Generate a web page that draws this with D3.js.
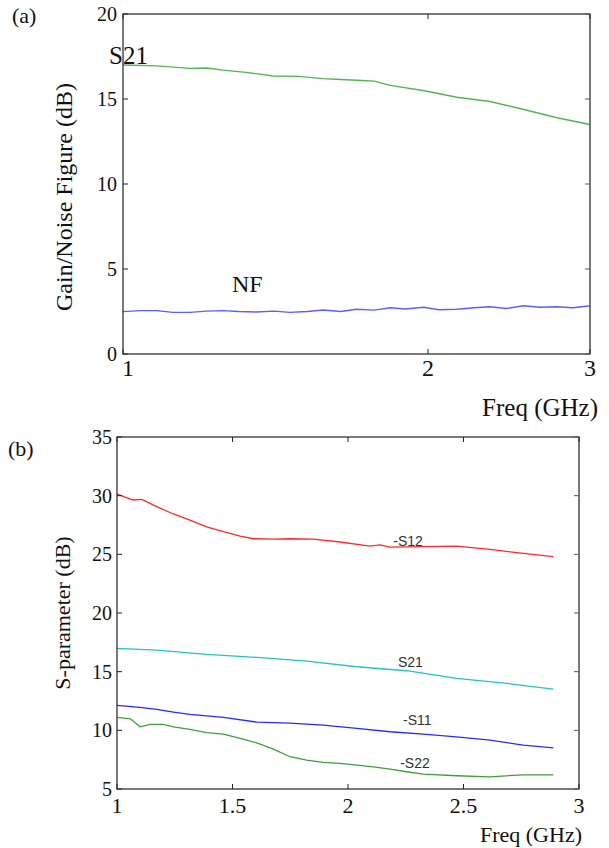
<!DOCTYPE html>
<html>
<head>
<meta charset="utf-8">
<script src="https://cdn.jsdelivr.net/npm/d3@7"></script>
<style>
  body { margin: 0; background: #fff; }
  svg { display: block; }
</style>
</head>
<body>
<svg id="chart" width="609" height="848"></svg>
<script>
// ---------- Panel (a) data ----------
const aS21Freq = [1.0, 1.08, 1.164, 1.21, 1.255, 1.33, 1.406, 1.49, 1.575, 1.64, 1.702, 1.77, 1.835, 1.977, 2.136, 2.303, 2.482, 2.681, 2.89];
const aS21Val  = [17.0, 16.95, 16.8, 16.82, 16.7, 16.55, 16.35, 16.33, 16.2, 16.15, 16.1, 16.05, 15.8, 15.5, 15.1, 14.85, 14.4, 13.9, 13.5];
const aNFFreq  = [1.0, 1.04, 1.08, 1.12, 1.164, 1.21, 1.256, 1.30, 1.354, 1.41, 1.461, 1.52, 1.576, 1.64, 1.70, 1.77, 1.835, 1.90, 1.98, 2.05, 2.135, 2.22, 2.303, 2.39, 2.485, 2.58, 2.68, 2.78, 2.89];
const aNFVal   = [2.49, 2.55, 2.55, 2.45, 2.45, 2.52, 2.55, 2.5, 2.47, 2.52, 2.45, 2.5, 2.59, 2.5, 2.63, 2.58, 2.72, 2.65, 2.75, 2.6, 2.63, 2.72, 2.78, 2.68, 2.84, 2.75, 2.78, 2.72, 2.84];
const aXTickValues = [1, 2, 2.89];
const aXTickLabels = ["1", "2", "3"];
const aYTicks = [0, 5, 10, 15, 20];

// ---------- Panel (b) data ----------
const bS12Freq = [1.0, 1.07, 1.107, 1.172, 1.244, 1.316, 1.388, 1.461, 1.533, 1.591, 1.677, 1.749, 1.85, 1.966, 2.095, 2.139, 2.182, 2.326, 2.47, 2.615, 2.759, 2.889];
const bS12Val  = [30.14, 29.63, 29.69, 29.06, 28.44, 27.92, 27.35, 26.93, 26.56, 26.33, 26.3, 26.33, 26.3, 26.05, 25.7, 25.8, 25.62, 25.65, 25.7, 25.42, 25.08, 24.8];
const bS21Freq = [1.0, 1.172, 1.388, 1.605, 1.821, 2.038, 2.254, 2.47, 2.687, 2.889];
const bS21Val  = [16.99, 16.84, 16.47, 16.22, 15.9, 15.42, 15.08, 14.43, 14.0, 13.52];
const bS11Freq = [1.0, 1.1, 1.172, 1.244, 1.316, 1.461, 1.605, 1.749, 1.893, 2.038, 2.182, 2.326, 2.47, 2.615, 2.759, 2.889];
const bS11Val  = [12.13, 11.95, 11.79, 11.56, 11.36, 11.1, 10.7, 10.62, 10.45, 10.17, 9.88, 9.68, 9.45, 9.17, 8.74, 8.51];
const bS22Freq = [1.0, 1.058, 1.1, 1.143, 1.2, 1.244, 1.316, 1.388, 1.461, 1.533, 1.605, 1.677, 1.749, 1.821, 1.893, 1.966, 2.038, 2.11, 2.182, 2.254, 2.326, 2.47, 2.615, 2.759, 2.889];
const bS22Val  = [11.1, 10.98, 10.3, 10.5, 10.5, 10.3, 10.08, 9.8, 9.68, 9.31, 8.94, 8.4, 7.75, 7.46, 7.27, 7.18, 7.04, 6.89, 6.7, 6.47, 6.27, 6.13, 6.04, 6.21, 6.21];
const bSeriesNames = ["-S12", "S21", "-S11", "-S22"];
const bXTicks = [1, 1.5, 2, 2.5, 3];
const bYTicks = [5, 10, 15, 20, 25, 30, 35];

const svg = d3.select("#chart");
const serif = "'Liberation Serif', 'Times New Roman', serif";
const sans = "'Liberation Sans', Arial, sans-serif";

function zip(xs, ys) { return xs.map((x, i) => ({ x, y: ys[i] })); }

function frame(g, x, y, xTicks, xFmt, yTicks, opts) {
  const [x0, x1] = x.range();
  const [y0, y1] = y.range(); // y0 bottom, y1 top
  const tl = 5;
  g.append("rect").attr("x", x0).attr("y", y1).attr("width", x1 - x0).attr("height", y0 - y1)
    .attr("fill", "none").attr("stroke", "#222").attr("stroke-width", 1.2);
  g.append("line").attr("x1", x1).attr("x2", x1).attr("y1", y1).attr("y2", y0)
    .attr("stroke", "#777").attr("stroke-width", 1.6);
  xTicks.forEach(t => {
    const px = x(t);
    g.append("line").attr("x1", px).attr("x2", px).attr("y1", y0).attr("y2", y0 - tl).attr("stroke", "#222");
    g.append("line").attr("x1", px).attr("x2", px).attr("y1", y1).attr("y2", y1 + tl).attr("stroke", "#222");
  });
  yTicks.forEach(t => {
    const py = y(t);
    g.append("line").attr("x1", x0).attr("x2", x0 + tl).attr("y1", py).attr("y2", py).attr("stroke", "#222");
    g.append("line").attr("x1", x1).attr("x2", x1 - tl).attr("y1", py).attr("y2", py).attr("stroke", "#555");
  });
  xTicks.forEach((t, i) => {
    g.append("text").attr("x", x(t) + (i === 0 ? opts.firstShift : 0)).attr("y", y0 + opts.xLabelDy)
      .attr("text-anchor", "middle").attr("font-family", serif).attr("font-size", opts.xFont)
      .attr("fill", "#111").text(xFmt(t, i));
  });
  yTicks.forEach(t => {
    g.append("text").attr("x", x0 - opts.yLabelGap).attr("y", y(t)).attr("dy", "0.35em")
      .attr("text-anchor", "end").attr("font-family", serif).attr("font-size", opts.yFont)
      .attr("fill", "#111").text(t);
  });
}

// ---------- Panel (a) ----------
{
  const x = d3.scaleLog().domain([1, 2.89]).range([123, 590]);
  const y = d3.scaleLinear().domain([0, 20]).range([354, 14]);
  const g = svg.append("g");
  const line = d3.line().x(d => x(d.x)).y(d => y(d.y));
  g.append("path").datum(zip(aS21Freq, aS21Val)).attr("d", line)
    .attr("fill", "none").attr("stroke", "#55b455").attr("stroke-width", 1.4);
  g.append("path").datum(zip(aNFFreq, aNFVal)).attr("d", line)
    .attr("fill", "none").attr("stroke", "#5e5eff").attr("stroke-width", 1.4);
  frame(g, x, y, aXTickValues, (t, i) => aXTickLabels[i], aYTicks,
    { xLabelDy: 22, xFont: 24, yLabelGap: 6, yFont: 20, firstShift: 5 });
  g.append("text").attr("x", 598).attr("y", 416).attr("text-anchor", "end")
    .attr("font-family", serif).attr("font-size", 25).attr("fill", "#111").text("Freq (GHz)");
  g.append("text").attr("transform", "translate(72,197) rotate(-90)").attr("text-anchor", "middle")
    .attr("font-family", serif).attr("font-size", 24).attr("fill", "#111").text("Gain/Noise Figure (dB)");
  g.append("text").attr("x", 12).attr("y", 23).attr("font-family", serif).attr("font-size", 22)
    .attr("fill", "#111").text("(a)");
  g.append("text").attr("x", 109).attr("y", 64).attr("font-family", serif).attr("font-size", 25)
    .attr("fill", "#111").text("S21");
  g.append("text").attr("x", 232).attr("y", 292).attr("font-family", serif).attr("font-size", 24)
    .attr("fill", "#111").text("NF");
}

// ---------- Panel (b) ----------
{
  const x = d3.scaleLinear().domain([1, 3]).range([117, 579]);
  const y = d3.scaleLinear().domain([5, 35]).range([789, 437]);
  const g = svg.append("g");
  const line = d3.line().x(d => x(d.x)).y(d => y(d.y));
  const series = [
    { f: bS12Freq, v: bS12Val, c: "#ff2a2a", lx: 2.26, ly: 26.15 },
    { f: bS21Freq, v: bS21Val, c: "#22c4c4", lx: 2.27, ly: 15.82 },
    { f: bS11Freq, v: bS11Val, c: "#2a2aff", lx: 2.3, ly: 10.87 },
    { f: bS22Freq, v: bS22Val, c: "#3f9f3f", lx: 2.29, ly: 7.2 }
  ];
  series.forEach((s, i) => {
    g.append("path").datum(zip(s.f, s.v)).attr("d", line)
      .attr("fill", "none").attr("stroke", s.c).attr("stroke-width", 1.3);
    g.append("text").attr("x", x(s.lx)).attr("y", y(s.ly)).attr("dy", "0.35em")
      .attr("text-anchor", "middle").attr("font-family", sans).attr("font-size", 14)
      .attr("fill", "#333").text(bSeriesNames[i]);
  });
  frame(g, x, y, bXTicks, t => d3.format("~g")(t), bYTicks,
    { xLabelDy: 24, xFont: 22, yLabelGap: 5, yFont: 20, firstShift: 0 });
  g.append("text").attr("x", 582).attr("y", 842).attr("text-anchor", "end")
    .attr("font-family", serif).attr("font-size", 22).attr("fill", "#111").text("Freq (GHz)");
  g.append("text").attr("transform", "translate(70,613) rotate(-90)").attr("text-anchor", "middle")
    .attr("font-family", serif).attr("font-size", 22).attr("fill", "#111").text("S-parameter (dB)");
  g.append("text").attr("x", 8).attr("y", 456).attr("font-family", serif).attr("font-size", 22)
    .attr("fill", "#111").text("(b)");
}
</script>
</body>
</html>
